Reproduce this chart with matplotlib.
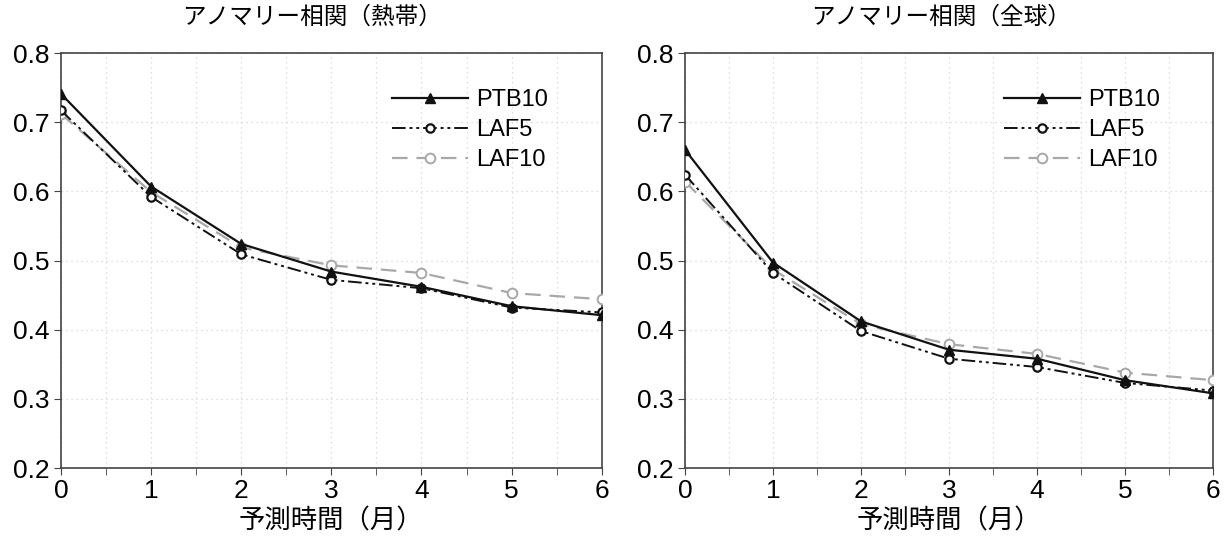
import numpy as np
import matplotlib
matplotlib.use("Agg")
import matplotlib.pyplot as plt
from matplotlib.ticker import MultipleLocator

plt.rcParams['font.family'] = ['Liberation Sans', 'Noto Sans CJK JP', 'DejaVu Sans']

# forecast lead time (months)
lead = [0, 1, 2, 3, 4, 5, 6]

# tropics
trop_ptb10 = [0.741, 0.607, 0.524, 0.484, 0.462, 0.434, 0.421]
trop_laf5 = [0.717, 0.592, 0.509, 0.472, 0.460, 0.432, 0.425]
trop_laf10 = [0.712, 0.599, 0.519, 0.493, 0.482, 0.453, 0.444]

# global
glob_ptb10 = [0.660, 0.497, 0.412, 0.371, 0.358, 0.327, 0.308]
glob_laf5 = [0.624, 0.482, 0.398, 0.358, 0.346, 0.323, 0.312]
glob_laf10 = [0.614, 0.487, 0.408, 0.379, 0.365, 0.338, 0.327]

titles = ["アノマリー相関（熱帯）", "アノマリー相関（全球）"]
xlabel = "予測時間（月）"
yticks = [0.2, 0.3, 0.4, 0.5, 0.6, 0.7, 0.8]

cjk = ['Noto Sans CJK JP', 'DejaVu Sans']

fig = plt.figure(figsize=(12.29, 5.4), dpi=100)
ax1 = fig.add_axes([0.0496, 0.1333, 0.440, 0.7685])
ax2 = fig.add_axes([0.5574, 0.1333, 0.4296, 0.7685])

panels = [(ax1, trop_ptb10, trop_laf5, trop_laf10, titles[0], 0.465),
          (ax2, glob_ptb10, glob_laf5, glob_laf10, titles[1], 0.485)]

for ax, ptb, laf5, laf10, title, tx in panels:
    ax.plot(lead, ptb, color='#111111', lw=1.6, marker='^', ms=7,
            label='PTB10', zorder=5)
    ax.plot(lead, laf5, color='#111111', lw=1.4,
            linestyle=(0, (7, 2, 1.5, 2, 1.5, 2)), marker='o', ms=6,
            mfc='white', mew=1.6, label='LAF5', zorder=4)
    ax.plot(lead, laf10, color='#a8a8a8', lw=1.6, linestyle=(0, (7, 4)),
            marker='o', ms=7, mfc='white', mew=1.4, label='LAF10', zorder=3)

    ax.set_xlim(0, 6)
    ax.set_ylim(0.2, 0.8)
    ax.set_yticks(yticks)
    ax.set_yticklabels([f"{v:.1f}" for v in yticks])
    ax.xaxis.set_major_locator(MultipleLocator(1))
    ax.xaxis.set_minor_locator(MultipleLocator(0.5))
    ax.tick_params(axis='both', which='major', labelsize=19, length=5,
                   color='#444444', direction='out', pad=3)
    ax.tick_params(axis='x', which='minor', length=5, color='#444444')
    ax.grid(True, which='both', axis='x', color='#d4d4d4', ls=(0, (1, 3)), lw=0.9)
    ax.grid(True, which='major', axis='y', color='#d4d4d4', ls=(0, (1, 3)), lw=0.9)
    for sp in ax.spines.values():
        sp.set_color('#444444')
        sp.set_linewidth(1.2)

    ax.set_title(title, fontsize=17, family=cjk, pad=21, x=tx)
    ax.set_xlabel(xlabel, fontsize=19, family=cjk, labelpad=3)

    ax.legend(loc='upper right', frameon=False, fontsize=17,
              handlelength=3.2, handletextpad=0.35, labelspacing=0.35,
              bbox_to_anchor=(0.94, 0.965))

fig.savefig("out.png", dpi=100)
